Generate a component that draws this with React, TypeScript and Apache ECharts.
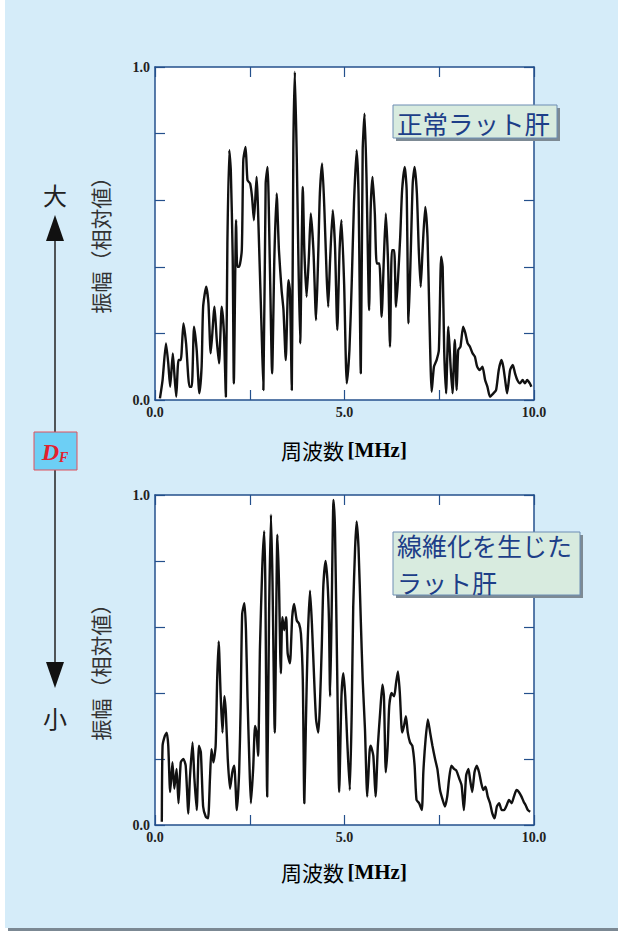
import React, { useEffect, useRef } from "react";
import * as echarts from "echarts";

// ---- Data ----
const freqTop = [
  0.13, 0.2, 0.29, 0.35, 0.4, 0.47, 0.51, 0.56, 0.62, 0.68, 0.75, 0.82, 0.91, 0.97, 1.03, 1.1, 1.17, 1.23, 1.27, 1.35,
  1.41, 1.47, 1.57, 1.63, 1.69, 1.76, 1.82, 1.87, 1.91, 1.96, 2.0, 2.05, 2.08, 2.14, 2.17, 2.22, 2.29, 2.33, 2.39, 2.44,
  2.51, 2.56, 2.61, 2.68, 2.75, 2.81, 2.86, 2.92, 2.97, 3.03, 3.09, 3.15, 3.21, 3.27, 3.34, 3.39, 3.45, 3.52, 3.56, 3.61,
  3.65, 3.69, 3.74, 3.78, 3.83, 3.9, 3.94, 4.0, 4.06, 4.11, 4.18, 4.25, 4.31, 4.35, 4.41, 4.47, 4.53, 4.57, 4.62, 4.69,
  4.75, 4.81, 4.87, 4.92, 4.99, 5.06, 5.13, 5.19, 5.25, 5.32, 5.37, 5.43, 5.48, 5.53, 5.58, 5.65, 5.69, 5.74, 5.8, 5.85,
  5.92, 5.98, 6.04, 6.09, 6.15, 6.2, 6.25, 6.31, 6.36, 6.41, 6.47, 6.52, 6.59, 6.64, 6.69, 6.75, 6.8, 6.85, 6.91, 6.96,
  7.01, 7.06, 7.13, 7.19, 7.24, 7.3, 7.36, 7.43, 7.49, 7.55, 7.59, 7.63, 7.68, 7.74, 7.8, 7.85, 7.91, 7.96, 8.0, 8.06,
  8.13, 8.19, 8.25, 8.31, 8.38, 8.44, 8.5, 8.57, 8.64, 8.71, 8.77, 8.84, 8.93, 9.0, 9.07, 9.14, 9.19, 9.25, 9.29, 9.37,
  9.44, 9.5, 9.56, 9.63, 9.7, 9.76, 9.82, 9.89, 9.93,
];
const ampTop = [
  0.005, 0.06, 0.17, 0.11, 0.04, 0.14, 0.08, 0.01, 0.12, 0.12, 0.23, 0.17, 0.04, 0.04, 0.22, 0.15, 0.02, 0.1, 0.28, 0.34,
  0.29, 0.14, 0.28, 0.18, 0.11, 0.28, 0.2, 0.01, 0.47, 0.75, 0.69, 0.43, 0.05, 0.54, 0.4, 0.4, 0.45, 0.72, 0.76, 0.66,
  0.65, 0.61, 0.54, 0.67, 0.45, 0.22, 0.03, 0.65, 0.7, 0.41, 0.08, 0.43, 0.62, 0.45, 0.33, 0.27, 0.12, 0.36, 0.33, 0.03,
  0.75, 0.985, 0.73, 0.45, 0.17, 0.64, 0.45, 0.31, 0.43, 0.56, 0.45, 0.24, 0.45, 0.62, 0.71, 0.57, 0.37, 0.28, 0.42, 0.57,
  0.46, 0.21, 0.45, 0.54, 0.35, 0.05, 0.15, 0.35, 0.59, 0.75, 0.62, 0.08, 0.75, 0.86, 0.67, 0.27, 0.57, 0.67, 0.56, 0.41,
  0.41, 0.25, 0.43, 0.56, 0.41, 0.16, 0.45, 0.45, 0.28, 0.36, 0.49, 0.63, 0.7, 0.63, 0.23, 0.45, 0.65, 0.7, 0.62, 0.45,
  0.34, 0.45, 0.58, 0.49, 0.25, 0.025, 0.1, 0.12, 0.15, 0.43, 0.4, 0.15, 0.02, 0.22, 0.1, 0.02, 0.18, 0.03, 0.15, 0.16,
  0.22, 0.2, 0.17, 0.16, 0.14, 0.13, 0.1, 0.09, 0.1, 0.06, 0.04, 0.01, 0.02, 0.03, 0.09, 0.12, 0.1, 0.05, 0.02, 0.09,
  0.105, 0.08, 0.06, 0.05, 0.06, 0.05, 0.06, 0.05, 0.04,
];

const freqBottom = [
  0.18, 0.2, 0.26, 0.31, 0.35, 0.4, 0.46, 0.51, 0.57, 0.62, 0.68, 0.75, 0.81, 0.88, 0.92, 0.99, 1.04, 1.1, 1.16, 1.21,
  1.27, 1.34, 1.4, 1.45, 1.49, 1.54, 1.6, 1.64, 1.68, 1.73, 1.78, 1.83, 1.87, 1.92, 1.98, 2.04, 2.09, 2.16, 2.22, 2.26,
  2.3, 2.36, 2.4, 2.44, 2.49, 2.53, 2.59, 2.64, 2.68, 2.72, 2.77, 2.83, 2.88, 2.91, 2.96, 3.01, 3.06, 3.1, 3.16, 3.23,
  3.27, 3.32, 3.36, 3.41, 3.46, 3.5, 3.56, 3.62, 3.67, 3.74, 3.8, 3.85, 3.9, 3.94, 3.98, 4.03, 4.09, 4.14, 4.2, 4.25,
  4.31, 4.35, 4.4, 4.44, 4.5, 4.55, 4.59, 4.62, 4.66, 4.71, 4.75, 4.81, 4.86, 4.92, 4.97, 5.02, 5.07, 5.14, 5.19, 5.23,
  5.28, 5.32, 5.37, 5.43, 5.48, 5.54, 5.6, 5.66, 5.69, 5.76, 5.82, 5.88, 5.94, 6.0, 6.04, 6.09, 6.14, 6.18, 6.24, 6.31,
  6.36, 6.41, 6.46, 6.52, 6.57, 6.62, 6.67, 6.73, 6.79, 6.85, 6.9, 6.97, 7.04, 7.08, 7.14, 7.2, 7.26, 7.32, 7.39, 7.45,
  7.52, 7.59, 7.65, 7.71, 7.76, 7.82, 7.89, 7.95, 8.03, 8.09, 8.15, 8.21, 8.27, 8.31, 8.37, 8.43, 8.49, 8.55, 8.61, 8.66,
  8.72, 8.78, 8.84, 8.9, 8.96, 9.02, 9.08, 9.15, 9.21, 9.28, 9.34, 9.41, 9.47, 9.54, 9.6, 9.67, 9.73, 9.78, 9.84, 9.9,
];
const ampBottom = [
  0.01, 0.24, 0.27, 0.28, 0.24, 0.1, 0.19, 0.11, 0.17, 0.066, 0.19, 0.2, 0.18, 0.035, 0.14, 0.25, 0.14, 0.045, 0.24, 0.22,
  0.056, 0.025, 0.02, 0.14, 0.23, 0.19, 0.24, 0.44, 0.556, 0.4, 0.28, 0.39, 0.34, 0.2, 0.11, 0.16, 0.18, 0.045, 0.16, 0.36,
  0.64, 0.672, 0.59, 0.39, 0.19, 0.066, 0.17, 0.3, 0.28, 0.21, 0.54, 0.78, 0.89, 0.74, 0.086, 0.64, 0.94, 0.74, 0.28, 0.88,
  0.74, 0.46, 0.63, 0.59, 0.63, 0.52, 0.49, 0.63, 0.67, 0.62, 0.61, 0.58, 0.44, 0.066, 0.3, 0.56, 0.71, 0.61, 0.44, 0.32,
  0.28, 0.36, 0.54, 0.72, 0.8, 0.74, 0.62, 0.39, 0.64, 0.985, 0.89, 0.44, 0.1, 0.39, 0.46, 0.39, 0.26, 0.106, 0.34, 0.66,
  0.84, 0.92, 0.84, 0.62, 0.44, 0.29, 0.086, 0.22, 0.24, 0.21, 0.086, 0.24, 0.34, 0.425, 0.39, 0.16, 0.24, 0.36, 0.4, 0.39,
  0.43, 0.465, 0.4, 0.28, 0.3, 0.33, 0.28, 0.25, 0.24, 0.18, 0.076, 0.066, 0.045, 0.16, 0.26, 0.32, 0.28, 0.24, 0.2, 0.17,
  0.106, 0.076, 0.056, 0.086, 0.14, 0.18, 0.17, 0.165, 0.14, 0.12, 0.045, 0.15, 0.17, 0.14, 0.1, 0.16, 0.18, 0.16, 0.126, 0.106,
  0.116, 0.086, 0.066, 0.035, 0.02, 0.056, 0.066, 0.045, 0.045, 0.06, 0.076, 0.066, 0.086, 0.106, 0.1, 0.086, 0.07, 0.06, 0.045, 0.04,
];

const xTickLabels = ["0.0", "5.0", "10.0"];
const yTickLabels = ["0.0", "1.0"];
const xTitle = "周波数";
const xUnit = "[MHz]";
const yTitle = "振幅（相対値）";
const legendTop = ["正常ラット肝"];
const legendBottom = ["線維化を生じた", "ラット肝"];

const AXIS_BLUE = "#24508c";
const CJK = '"Noto Sans CJK JP", "Noto Sans", sans-serif';
const SERIF = '"Liberation Serif", "DejaVu Serif", serif';

function fmtX(v: number) {
  const s = v.toFixed(1);
  return xTickLabels.includes(s) ? s : "";
}
function fmtY(v: number) {
  const s = v.toFixed(1);
  return yTickLabels.includes(s) ? s : "";
}

function makeAxes(gridIndex: number) {
  const tick = { show: true, inside: true, length: 10, lineStyle: { color: AXIS_BLUE, width: 1.2 } };
  const line = { show: true, onZero: false, lineStyle: { color: AXIS_BLUE, width: 1.5 } };
  const label = {
    fontFamily: SERIF,
    fontWeight: "bold" as const,
    fontSize: 14,
    color: "#222",
  };
  const xAxes = [
    {
      type: "value", gridIndex, min: 0, max: 10, interval: 2.5, position: "bottom",
      axisLine: line, axisTick: tick, splitLine: { show: false },
      axisLabel: { ...label, margin: 5, formatter: fmtX, showMinLabel: true, showMaxLabel: true },
    },
    {
      type: "value", gridIndex, min: 0, max: 10, interval: 2.5, position: "top",
      axisLine: line, axisTick: tick, splitLine: { show: false }, axisLabel: { show: false },
    },
  ];
  const yAxes = [
    {
      type: "value", gridIndex, min: 0, max: 1, interval: 0.2, position: "left",
      axisLine: line, axisTick: tick, splitLine: { show: false },
      axisLabel: { ...label, margin: 5, formatter: fmtY, showMinLabel: true, showMaxLabel: true },
    },
    {
      type: "value", gridIndex, min: 0, max: 1, interval: 0.2, position: "right",
      axisLine: line, axisTick: tick, splitLine: { show: false }, axisLabel: { show: false },
    },
  ];
  return { xAxes, yAxes };
}

function legendBox(x: number, y: number, w: number, h: number, lines: string[], size: number, lineYs: number[]) {
  return {
    type: "group",
    z: 100,
    children: [
      { type: "rect", z: 100, shape: { x: x + 3, y: y + 3, width: w, height: h }, style: { fill: "#7d8a94" } },
      { type: "rect", z: 101, shape: { x, y, width: w, height: h }, style: { fill: "#d8ebdf", stroke: "#6c8db3", lineWidth: 1 } },
      ...lines.map((t, i) => ({
        type: "text",
        z: 102,
        x: x + 4,
        y: lineYs[i],
        style: { text: t, fill: "#1d3e88", font: `${size}px ${CJK}`, textVerticalAlign: "middle" },
      })),
    ],
  };
}

export default function App() {
  const ref = useRef<HTMLDivElement>(null);
  useEffect(() => {
    if (!ref.current) return;
    const chart = echarts.init(ref.current, undefined, { renderer: "svg" });
    const a0 = makeAxes(0);
    const a1 = makeAxes(1);
    const topData = freqTop.map((f, i) => [f, ampTop[i]]);
    const bottomData = freqBottom.map((f, i) => [f, ampBottom[i]]);
    const titleRich = {
      a: { fontFamily: CJK, fontSize: 21, color: "#333" },
      b: { fontFamily: SERIF, fontSize: 21, fontWeight: "bold", color: "#333" },
    };
    chart.setOption({
      animation: false,
      backgroundColor: "#ffffff",
      grid: [
        { left: 155, top: 67, width: 379, height: 333, show: true, backgroundColor: "#fff", borderColor: AXIS_BLUE, borderWidth: 0 },
        { left: 155, top: 495, width: 379, height: 330, show: true, backgroundColor: "#fff", borderColor: AXIS_BLUE, borderWidth: 0 },
      ],
      xAxis: [...a0.xAxes, ...a1.xAxes],
      yAxis: [...a0.yAxes, ...a1.yAxes],
      series: [
        {
          type: "line", xAxisIndex: 0, yAxisIndex: 0, data: topData, showSymbol: false, smooth: 0.2,
          lineStyle: { color: "#111", width: 2.4 }, z: 3,
        },
        {
          type: "line", xAxisIndex: 2, yAxisIndex: 2, data: bottomData, showSymbol: false, smooth: 0.2,
          lineStyle: { color: "#111", width: 2.4 }, z: 3,
        },
      ],
      graphic: [
        // background panel
        { type: "rect", z: -10, silent: true, shape: { x: 5, y: 0, width: 613, height: 928 }, style: { fill: "#d5ecf9" } },
        { type: "rect", z: -10, silent: true, shape: { x: 8, y: 928, width: 610, height: 3 }, style: { fill: "#7b8893" } },
        // arrow
        { type: "line", shape: { x1: 55, y1: 236, x2: 55, y2: 666 }, style: { stroke: "#222", lineWidth: 1.5 } },
        { type: "polygon", shape: { points: [[55, 215], [46, 241], [64, 241]] }, style: { fill: "#111" } },
        { type: "polygon", shape: { points: [[55, 688], [46, 662], [64, 662]] }, style: { fill: "#111" } },
        { type: "text", x: 55, y: 194, style: { text: "大", font: `24px ${CJK}`, fill: "#222", textAlign: "center", textVerticalAlign: "middle" } },
        { type: "text", x: 55, y: 717, style: { text: "小", font: `24px ${CJK}`, fill: "#222", textAlign: "center", textVerticalAlign: "middle" } },
        // DF box
        { type: "rect", z: 10, shape: { x: 34, y: 432, width: 43, height: 38 }, style: { fill: "#6dcff5", stroke: "#e0505c", lineWidth: 1 } },
        {
          type: "text", z: 11, x: 55, y: 452,
          style: {
            text: "{d|D}{f|F}",
            textAlign: "center", textVerticalAlign: "middle",
            rich: {
              d: { fontFamily: SERIF, fontStyle: "italic", fontWeight: "bold", fontSize: 24, fill: "#e3202e", color: "#e3202e" },
              f: { fontFamily: SERIF, fontStyle: "italic", fontWeight: "bold", fontSize: 14, fill: "#e3202e", color: "#e3202e", padding: [10, 0, 0, 0] },
            },
          },
        },
        // y titles
        { type: "text", x: 100, y: 240, rotation: Math.PI / 2, style: { text: yTitle, font: `21px ${CJK}`, fill: "#333", textAlign: "center", textVerticalAlign: "middle" } },
        { type: "text", x: 100, y: 667, rotation: Math.PI / 2, style: { text: yTitle, font: `21px ${CJK}`, fill: "#333", textAlign: "center", textVerticalAlign: "middle" } },
        // x titles
        { type: "text", x: 344, y: 450, style: { text: `{a|${xTitle}} {b|${xUnit}}`, rich: titleRich, textAlign: "center", textVerticalAlign: "middle" } },
        { type: "text", x: 344, y: 872, style: { text: `{a|${xTitle}} {b|${xUnit}}`, rich: titleRich, textAlign: "center", textVerticalAlign: "middle" } },
        // legend boxes
        legendBox(393, 105, 164, 33, legendTop, 25.5, [122]),
        legendBox(393, 532, 187, 63, legendBottom, 25, [545, 582]),
      ],
    });
    return () => chart.dispose();
  }, []);
  return <div ref={ref} style={{ position: "fixed", left: 0, top: 0, width: 618, height: 931 }} />;
}
